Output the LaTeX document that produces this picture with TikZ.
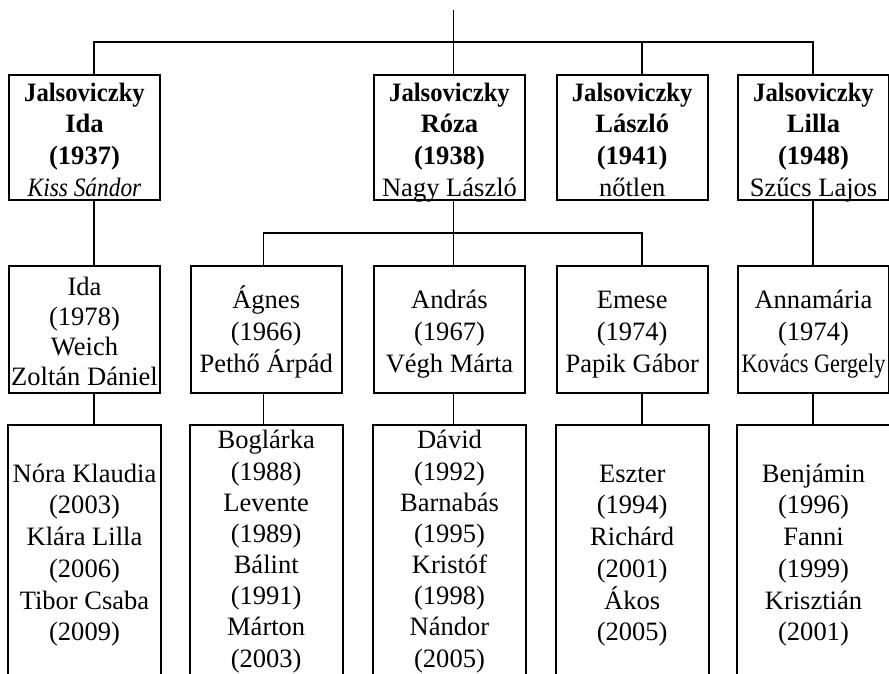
\documentclass[tikz,border=0pt]{standalone}
\usepackage{fontspec}
\setmainfont{Liberation Serif}
\usepackage{graphicx}

\newlength{\firstrowht}
\newcommand{\firstrow}{\rule{0pt}{\firstrowht}}
\newcommand{\jal}{\textbf{\scalebox{0.93}[1]{Jalsoviczky}}}

\tikzset{
  parentbox/.style={draw, minimum width=113.25pt, minimum height=93.75pt, inner xsep=0pt, inner ysep=-8pt,
    align=center, font=\fontsize{19.9}{23.8}\selectfont,
    execute at begin node={\setlength{\firstrowht}{24pt}}, execute at end node=\strut},
  childbox/.style={parentbox, minimum height=95pt},
  grandbox/.style={parentbox, draw=none, minimum height=186.75pt},
  longlist/.style={font=\fontsize{19.9}{23.36}\selectfont,
    execute at begin node={\setlength{\firstrowht}{18.7pt}}}
}

\begin{document}
\begin{tikzpicture}[x=0.75pt, y=-0.75pt, line width=1.4pt]
  \useasboundingbox (0,0) rectangle (889,674);
  \node[parentbox] (ida) at (84.5,137.5) {\firstrow\jal\\\textbf{Ida}\\\textbf{(1937)}\\\textit{\scalebox{0.88}[1]{Kiss Sándor}}};
  \node[parentbox] (roza) at (449.5,137.5) {\firstrow\jal\\\textbf{Róza}\\\textbf{(1938)}\\Nagy László};
  \node[parentbox] (laszlo) at (632.2,137.5) {\firstrow\jal\\\textbf{László}\\\textbf{(1941)}\\nőtlen};
  \node[parentbox] (lilla) at (813.5,137.5) {\firstrow\jal\\\textbf{Lilla}\\\textbf{(1948)}\\Szűcs Lajos};
  \node[childbox, font=\fontsize{19.9}{22.6}\selectfont] (ida2) at (84.5,329.3) {\firstrow Ida\\(1978)\\Weich\\Zoltán Dániel};
  \node[childbox] (agnes) at (266.2,329.3) {\firstrow Ágnes\\(1966)\\Pethő Árpád};
  \node[childbox] (andras) at (449.5,329.3) {\firstrow András\\(1967)\\Végh Márta};
  \node[childbox] (emese) at (632.2,329.3) {\firstrow Emese\\(1974)\\Papik Gábor};
  \node[childbox] (annamaria) at (813.5,329.3) {\firstrow Annamária\\(1974)\\\scalebox{0.84}[1]{Kovács Gergely}};
  \node[grandbox] (ida2kids) at (84.5,550.2) {\firstrow Nóra Klaudia\\(2003)\\Klára Lilla\\(2006)\\Tibor Csaba\\(2009)};
  \node[grandbox, longlist] (agneskids) at (266.2,550.2) {\firstrow Boglárka\\(1988)\\Levente\\(1989)\\Bálint\\(1991)\\Márton\\(2003)};
  \node[grandbox, longlist] (andraskids) at (449.5,550.2) {\firstrow Dávid\\(1992)\\Barnabás\\(1995)\\Kristóf\\(1998)\\Nándor\\(2005)};
  \node[grandbox] (emesekids) at (632.2,550.2) {\firstrow Eszter\\(1994)\\Richárd\\(2001)\\Ákos\\(2005)};
  \node[grandbox] (annamariakids) at (813.5,550.2) {\firstrow Benjámin\\(1996)\\Fanni\\(1999)\\Krisztián\\(2001)};
  \draw (ida2kids.south west) -- (ida2kids.north west) -- (ida2kids.north east) -- (ida2kids.south east);
  \draw (agneskids.south west) -- (agneskids.north west) -- (agneskids.north east) -- (agneskids.south east);
  \draw (andraskids.south west) -- (andraskids.north west) -- (andraskids.north east) -- (andraskids.south east);
  \draw (emesekids.south west) -- (emesekids.north west) -- (emesekids.north east) -- (emesekids.south east);
  \draw (annamariakids.south west) -- (annamariakids.north west) -- (annamariakids.north east) -- (annamariakids.south east);
  \coordinate (top) at (453.5,10);
  \coordinate (barL) at (94,42);
  \coordinate (barR) at (812.7,42);
  \coordinate (subL) at (263.5,232.7);
  \coordinate (subR) at (641.7,232.7);
  \draw (top) -- (top |- barL);
  \draw (barL |- ida.north) -- (barL) -- (barR) -- (barR |- lilla.north);
  \draw (top |- barL) -- (top |- roza.north);
  \draw (subR |- barL) -- (subR |- laszlo.north);
  \draw (barL |- ida.south) -- (barL |- ida2.north);
  \draw (top |- roza.south) -- (top |- andras.north);
  \draw (subL |- agnes.north) -- (subL) -- (subR) -- (subR |- emese.north);
  \draw (barR |- lilla.south) -- (barR |- annamaria.north);
  \draw (barL |- ida2.south) -- (barL |- ida2kids.north);
  \draw (subL |- agnes.south) -- (subL |- agneskids.north);
  \draw (top |- andras.south) -- (top |- andraskids.north);
  \draw (subR |- emese.south) -- (subR |- emesekids.north);
  \draw (barR |- annamaria.south) -- (barR |- annamariakids.north);
\end{tikzpicture}
\end{document}
